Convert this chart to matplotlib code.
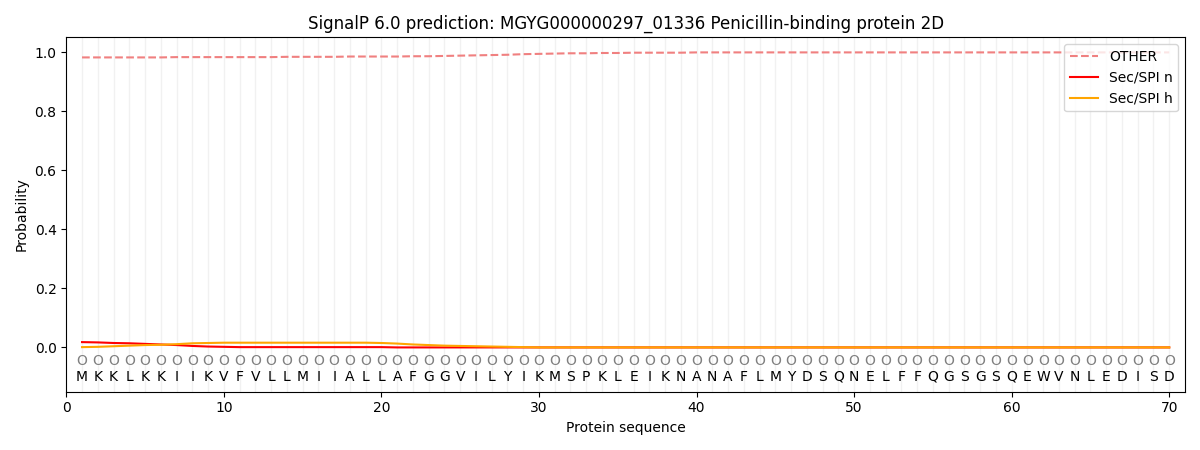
import matplotlib
matplotlib.use("Agg")
import matplotlib.pyplot as plt
import numpy as np

sequence = list("MKKLKKIIKVFVLLMIIALLAFGGVILYIKMSPKLEIKNANAFLMYDSQNELFFQGSGSQEWVNLEDISD")
positions = list(range(1, len(sequence) + 1))
region_labels = ["O"] * len(sequence)

other = [0.982, 0.982, 0.982, 0.982, 0.982, 0.982, 0.983, 0.983, 0.983, 0.983,
         0.983, 0.983, 0.983, 0.984, 0.984, 0.984, 0.984, 0.985, 0.985, 0.985,
         0.985, 0.986, 0.986, 0.987, 0.988, 0.989, 0.990, 0.991, 0.993, 0.994,
         0.995, 0.996, 0.996, 0.997, 0.997, 0.998, 0.998, 0.998, 0.998, 0.999] + [0.999] * 30
sec_n = [0.018, 0.017, 0.015, 0.014, 0.012, 0.010, 0.008, 0.005, 0.003, 0.002,
         0.001, 0.001, 0.001, 0.001, 0.001, 0.001, 0.001, 0.001, 0.001, 0.001] + [0.0] * 50
sec_h = [0.001, 0.002, 0.004, 0.006, 0.008, 0.009, 0.011, 0.014, 0.015, 0.016,
         0.016, 0.016, 0.016, 0.016, 0.016, 0.016, 0.016, 0.016, 0.016, 0.015,
         0.013, 0.010, 0.008, 0.006, 0.005, 0.004, 0.003, 0.002, 0.001, 0.0] + [0.0] * 40

fig, ax = plt.subplots(figsize=(12, 4.5), dpi=100)
for p in positions:
    ax.axvline(p, color="#e8e8e8", linewidth=1, alpha=0.6, zorder=0)

ax.plot(positions, other, linestyle="--", color="lightcoral", label="OTHER", linewidth=1.5)
ax.plot(positions, sec_n, color="red", label="Sec/SPI n", linewidth=1.5)
ax.plot(positions, sec_h, color="orange", label="Sec/SPI h", linewidth=1.5)

for p, aa, r in zip(positions, sequence, region_labels):
    ax.text(p, -0.045, r, ha="center", va="center", color="gray", fontsize=10)
    ax.text(p, -0.1, aa, ha="center", va="center", color="black", fontsize=10)

ax.set_xlim(0, 71)
ax.set_ylim(-0.15, 1.05)
ax.set_xlabel("Protein sequence")
ax.set_ylabel("Probability")
ax.set_title("SignalP 6.0 prediction: MGYG000000297_01336 Penicillin-binding protein 2D")
ax.legend(loc="upper right")
fig.tight_layout()
fig.savefig("out.png")
